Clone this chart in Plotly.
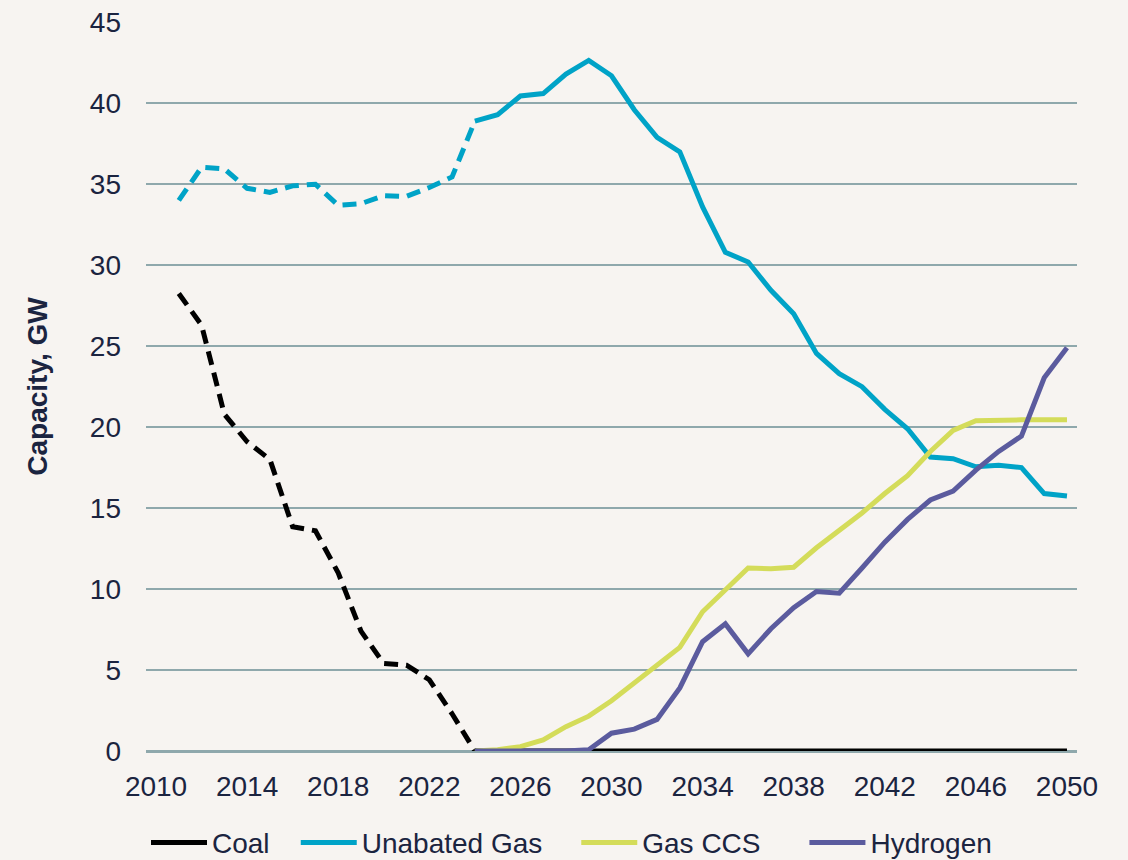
import plotly.graph_objects as go

# ---- data (GW) ----
years = list(range(2011, 2051))
history_end = 2024  # dashed (historic) up to and including this year

coal = [28.25, 26.3, 20.8, 19.1, 18.0, 13.85, 13.6, 11.0, 7.4, 5.4,
        5.3, 4.4, 2.3, 0.0, 0, 0, 0, 0, 0, 0,
        0, 0, 0, 0, 0, 0, 0, 0, 0, 0,
        0, 0, 0, 0, 0, 0, 0, 0, 0, 0]
unabated_gas = [34.0, 36.05, 35.95, 34.75, 34.5, 34.9, 35.0, 33.7, 33.8, 34.3,
                34.25, 34.8, 35.45, 38.9, 39.3, 40.45, 40.6, 41.8, 42.65, 41.7,
                39.6, 37.9, 37.0, 33.6, 30.8, 30.2, 28.45, 27.0, 24.55, 23.3,
                22.5, 21.1, 19.9, 18.15, 18.05, 17.55, 17.65, 17.5, 15.9, 15.75]
gas_ccs = [None] * 13 + [0.0, 0.08, 0.27, 0.68, 1.5, 2.15, 3.1,
                         4.2, 5.3, 6.4, 8.6, 10.0, 11.3, 11.25, 11.35, 12.55, 13.6,
                         14.7, 15.9, 17.0, 18.5, 19.8, 20.4, 20.45, 20.45, 20.45, 20.45]
hydrogen = [None] * 13 + [0.0, 0.0, 0.0, 0.0, 0.0, 0.08, 1.1,
                          1.35, 1.95, 3.9, 6.75, 7.85, 6.0, 7.55, 8.85, 9.85, 9.75,
                          11.3, 12.9, 14.3, 15.5, 16.05, 17.35, 18.5, 19.45, 23.05, 24.9]

x_ticks = list(range(2010, 2051, 4))
y_ticks = list(range(0, 46, 5))

# ---- styles ----
C_COAL = "#000000"
C_GAS = "#00A3C7"
C_CCS = "#D4DC5A"
C_H2 = "#5B5B9E"
BG = "#F7F4F1"
GRID = "#8FA8AC"
TXT = "#1B2440"
FONT = "Liberation Sans, Arial, sans-serif"
LW = 5
DASH = "14px,8px"
NB = "\u00a0"
TH = "\u2009"

n_hist = years.index(history_end) + 1
hist_years = years[:n_hist]
proj_years = years[n_hist - 1:]

fig = go.Figure()

# Coal
fig.add_trace(go.Scatter(x=hist_years, y=coal[:n_hist], mode="lines", showlegend=False,
                         line=dict(color=C_COAL, width=LW, dash=DASH), hoverinfo="skip"))
fig.add_trace(go.Scatter(x=proj_years, y=coal[n_hist - 1:], mode="lines",
                         name="Coal" + NB * 2 + TH,
                         line=dict(color=C_COAL, width=LW)))
# Unabated gas
fig.add_trace(go.Scatter(x=hist_years, y=unabated_gas[:n_hist], mode="lines", showlegend=False,
                         line=dict(color=C_GAS, width=LW, dash=DASH), hoverinfo="skip"))
fig.add_trace(go.Scatter(x=proj_years, y=unabated_gas[n_hist - 1:], mode="lines",
                         name="Unabated Gas" + NB * 3 + TH,
                         line=dict(color=C_GAS, width=LW)))
# Gas CCS
fig.add_trace(go.Scatter(x=years, y=gas_ccs, mode="lines", name="Gas CCS" + NB * 5,
                         line=dict(color=C_CCS, width=LW)))
# Hydrogen
fig.add_trace(go.Scatter(x=years, y=hydrogen, mode="lines", name="Hydrogen",
                         line=dict(color=C_H2, width=LW)))

fig.update_layout(
    width=1128, height=860,
    paper_bgcolor=BG, plot_bgcolor=BG,
    font=dict(family=FONT, size=28, color=TXT),
    margin=dict(l=146, r=51, t=22, b=109),
    showlegend=True,
    legend=dict(orientation="h", x=0.0, xanchor="left", xref="paper",
                y=0.02, yanchor="middle", yref="container",
                itemwidth=56, font=dict(size=28, color=TXT), bgcolor="rgba(0,0,0,0)",
                traceorder="normal"),
    xaxis=dict(range=[2009.56, 2050.44], tickmode="array", tickvals=x_ticks,
               ticktext=[str(v) for v in x_ticks], showgrid=False, zeroline=False,
               showline=False, ticks="", ticklabelstandoff=16, automargin=False,
               tickfont=dict(size=28, color=TXT)),
    yaxis=dict(range=[0, 45.02], tickmode="array", tickvals=y_ticks,
               showgrid=True, gridcolor=GRID, gridwidth=2, zeroline=True,
               zerolinecolor=GRID, zerolinewidth=3, showline=False, ticks="",
               ticklabelstandoff=24, automargin=False,
               tickfont=dict(size=28, color=TXT),
               title=dict(text="<b>Capacity, GW</b>" + NB * 3, font=dict(size=28, color=TXT),
                          standoff=34)),
)

fig.write_html("out.html", config={"displayModeBar": False},
               post_script="document.body.style.margin='0';document.body.style.overflow='hidden';")
